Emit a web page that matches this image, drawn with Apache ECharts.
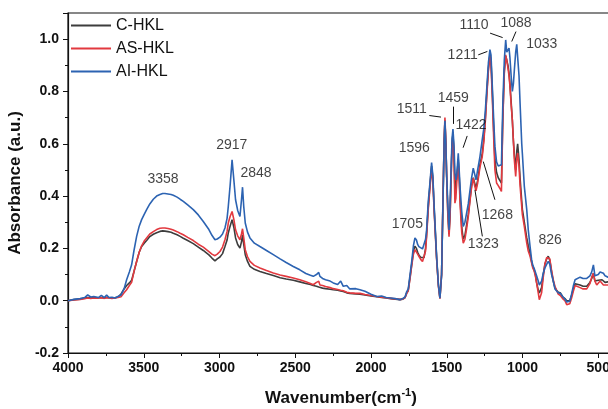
<!DOCTYPE html>
<html>
<head>
<meta charset="utf-8">
<script src="https://cdn.jsdelivr.net/npm/echarts@6/dist/echarts.min.js"></script>
<style>
html,body{margin:0;padding:0;background:#fff;}
#chart{width:608px;height:409px;}
</style>
</head>
<body>
<div id="chart"></div>
<script>
// ---- data (wavenumber in cm-1, absorbance in a.u.) ----
const wavenumbers = [
  4000,3960,3920,3890,3870,3850,3830,3800,3780,3760,3745,3730,3710,3690,3670,
  3650,3630,3613,3595,3580,3565,3547,3530,3514,3497,3481,3460,3437,3415,3393,3375,3360,3340,3320,3305,3280,3260,3239,3210,3173,3140,3107,3070,3050,3030,
  3015,2997,2980,2964,2950,2942,2930,2917,2905,2894,2880,2865,2855,2848,2840,2830,2815,2799,
  2770,2733,2690,2645,2600,2560,2513,2470,2430,2400,2381,2360,2345,2337,2320,2300,2270,2249,2220,2200,2183,2160,2140,2100,2073,2040,2000,1962,1930,1900,1870,1840,1809,1790,
  1775,1764,1754,1740,1731,1720,1710,1700,1692,1684,1672,1660,1650,1640,1633,1622,1611,1600,1592,1583,1567,1555,1545,1534,1525,1517,1512,1506,1501,
  1493,1485,1478,1472,1465,1459,1452,1446,1440,1434,1424,1418,1411,1401,1391,1380,1369,1358,1347,1336,1325,1316,1307,1296,1281,1266,1255,1245,1235,1225,1215,
  1208,1200,1190,1182,1171,1160,1150,1139,1130,1120,1111,1104,1096,1089,1083,1075,1067,1060,1054,1045,1038,1032,1023,1016,1005,1001,
  988,972,962,950,940,932,924,915,907,896,889,884,874,863,852,840,830,820,808,797,786,775,764,750,735,720,708,
  698,688,676,665,653,640,620,600,576,555,543,532,522,510,500,488,475,466,455,445,436,420,400
];
const cHKL = [
  0.000,0.004,0.006,0.010,0.012,0.010,0.012,0.011,0.012,0.010,0.013,0.011,0.010,0.011,0.014,
  0.025,0.045,0.058,0.068,0.078,0.110,0.150,0.185,0.207,0.220,0.230,0.245,0.254,0.260,0.265,0.267,0.266,0.264,0.262,0.258,0.252,0.246,0.239,0.230,0.218,0.205,0.192,0.175,0.163,0.152,
  0.160,0.167,0.180,0.207,0.232,0.259,0.285,0.310,0.280,0.240,0.215,0.201,0.225,0.252,0.215,0.176,0.150,0.131,
  0.120,0.112,0.104,0.096,0.088,0.083,0.078,0.072,0.066,0.062,0.058,0.055,0.052,0.050,0.048,0.046,0.044,0.042,0.040,0.037,0.035,0.030,0.028,0.026,0.025,0.022,0.018,0.015,0.012,0.010,0.008,0.006,0.004,0.006,
  0.012,0.030,0.040,0.100,0.140,0.190,0.208,0.200,0.185,0.175,0.165,0.158,0.165,0.200,0.255,0.360,0.440,0.515,0.470,0.350,0.165,0.060,0.010,0.100,0.380,0.610,0.690,0.600,0.480,
  0.340,0.255,0.330,0.460,0.600,0.640,0.560,0.420,0.420,0.470,0.540,0.480,0.380,0.280,0.235,0.250,0.290,0.330,0.385,0.440,0.470,0.450,0.430,0.460,0.520,0.560,0.620,0.700,0.800,0.890,0.940,
  0.920,0.810,0.650,0.540,0.490,0.470,0.460,0.450,0.700,0.880,0.935,0.920,0.900,0.870,0.830,0.760,0.690,0.610,0.560,0.500,0.570,0.600,0.540,0.470,0.380,0.350,
  0.300,0.240,0.210,0.180,0.150,0.130,0.120,0.100,0.070,0.040,0.030,0.035,0.050,0.100,0.140,0.160,0.170,0.155,0.110,0.075,0.050,0.040,0.032,0.030,0.015,0.008,0.000,
  -0.005,0.000,0.020,0.045,0.065,0.068,0.060,0.055,0.055,0.070,0.085,0.105,0.075,0.070,0.078,0.085,0.080,0.075,0.070,0.075,0.072,0.070,0.070
];
const asHKL = [
  0.000,0.003,0.005,0.008,0.010,0.009,0.010,0.010,0.011,0.009,0.011,0.010,0.009,0.010,0.012,
  0.015,0.030,0.042,0.058,0.070,0.110,0.150,0.185,0.210,0.228,0.240,0.255,0.264,0.272,0.277,0.278,0.278,0.276,0.273,0.270,0.264,0.258,0.252,0.242,0.230,0.216,0.205,0.188,0.178,0.172,
  0.178,0.188,0.205,0.233,0.265,0.297,0.322,0.341,0.310,0.271,0.248,0.233,0.255,0.275,0.240,0.195,0.168,0.150,
  0.135,0.125,0.115,0.106,0.098,0.093,0.087,0.080,0.072,0.066,0.061,0.070,0.074,0.060,0.058,0.054,0.050,0.046,0.043,0.040,0.038,0.032,0.030,0.028,0.028,0.024,0.020,0.016,0.013,0.011,0.009,0.007,0.005,0.006,
  0.012,0.028,0.038,0.095,0.135,0.178,0.195,0.190,0.178,0.170,0.158,0.150,0.155,0.190,0.245,0.350,0.430,0.505,0.460,0.340,0.160,0.055,0.008,0.100,0.390,0.620,0.700,0.610,0.490,
  0.330,0.245,0.320,0.450,0.590,0.635,0.540,0.373,0.390,0.450,0.530,0.460,0.360,0.260,0.220,0.235,0.275,0.320,0.380,0.435,0.469,0.440,0.420,0.450,0.510,0.550,0.610,0.690,0.790,0.880,0.935,
  0.900,0.790,0.620,0.500,0.450,0.440,0.430,0.418,0.690,0.870,0.940,0.920,0.890,0.860,0.820,0.750,0.690,0.610,0.540,0.475,0.540,0.564,0.513,0.440,0.360,0.330,
  0.284,0.220,0.190,0.170,0.145,0.125,0.115,0.095,0.068,0.030,0.004,0.010,0.030,0.090,0.140,0.165,0.172,0.160,0.115,0.080,0.055,0.040,0.025,0.020,0.008,0.000,-0.015,
  -0.018,-0.012,0.010,0.035,0.058,0.062,0.050,0.045,0.045,0.065,0.090,0.105,0.075,0.060,0.065,0.075,0.068,0.060,0.055,0.060,0.062,0.060,0.060
];
const aiHKL = [
  0.000,0.005,0.008,0.012,0.022,0.014,0.016,0.012,0.020,0.012,0.022,0.012,0.013,0.010,0.016,
  0.022,0.045,0.080,0.110,0.137,0.190,0.246,0.285,0.310,0.330,0.348,0.370,0.388,0.400,0.406,0.410,0.410,0.408,0.406,0.403,0.396,0.388,0.380,0.366,0.348,0.328,0.303,0.272,0.250,0.233,
  0.236,0.243,0.255,0.278,0.315,0.360,0.440,0.539,0.460,0.386,0.345,0.322,0.385,0.434,0.360,0.297,0.262,0.240,
  0.220,0.207,0.192,0.176,0.160,0.146,0.131,0.118,0.104,0.097,0.093,0.100,0.108,0.093,0.085,0.080,0.075,0.068,0.062,0.075,0.055,0.058,0.045,0.046,0.042,0.036,0.025,0.016,0.018,0.012,0.010,0.008,0.004,0.008,
  0.015,0.035,0.045,0.110,0.150,0.210,0.240,0.232,0.215,0.207,0.200,0.198,0.205,0.235,0.270,0.380,0.450,0.528,0.480,0.360,0.170,0.060,0.010,0.100,0.370,0.610,0.688,0.600,0.488,
  0.370,0.270,0.370,0.490,0.620,0.656,0.590,0.490,0.462,0.480,0.564,0.500,0.424,0.340,0.284,0.300,0.335,0.370,0.420,0.470,0.507,0.485,0.462,0.500,0.550,0.615,0.660,0.730,0.820,0.910,0.960,
  0.940,0.830,0.690,0.590,0.530,0.515,0.512,0.520,0.750,0.920,0.997,0.950,0.955,0.966,0.930,0.860,0.800,0.830,0.880,0.950,0.980,0.987,0.860,0.755,0.600,0.564,
  0.437,0.348,0.271,0.207,0.157,0.135,0.125,0.120,0.095,0.075,0.060,0.058,0.075,0.105,0.125,0.140,0.150,0.140,0.100,0.075,0.045,0.042,0.030,0.028,0.016,0.006,-0.005,
  -0.009,-0.002,0.025,0.055,0.080,0.082,0.090,0.085,0.085,0.095,0.110,0.137,0.095,0.088,0.100,0.110,0.112,0.105,0.095,0.090,0.090,0.088,0.088
];
const seriesNames = ['C-HKL', 'AS-HKL', 'AI-HKL'];
const xTicks = { min: 0, max: 4000, step: 500 };
const yTicks = { min: -0.2, max: 1.1, step: 0.2 };

// peak annotations (text and anchor in data units)
const peakLabels   = ['3358','2917','2848','1705','1596','1511','1459','1422','1323','1268','1211','1110','1088','1033','826'];
const peakLabelWn  = [3373, 2919, 2759, 1760, 1714, 1731, 1457, 1340, 1259, 1166, 1395, 1320, 1043, 873, 818];
const peakLabelAbs = [0.466, 0.596, 0.488, 0.294, 0.583, 0.734, 0.775, 0.673, 0.218, 0.329, 0.937, 1.052, 1.063, 0.981, 0.233];
const leaderFrom = [[1615,0.708],[1457,0.742],[1365,0.630],[1314,0.424],[1259,0.532],[1292,0.940],[1214,1.023],[1043,1.029]];
const leaderTo   = [[1538,0.702],[1457,0.676],[1392,0.585],[1265,0.246],[1182,0.386],[1232,0.953],[1131,1.006],[1071,0.991]];

[cHKL, asHKL, aiHKL].forEach(function (a, i) {
  if (a.length !== wavenumbers.length) throw new Error('length mismatch in ' + seriesNames[i] + ': ' + a.length + ' vs ' + wavenumbers.length);
});

const colors = ['#3d3d3d', '#e2393f', '#2c63b2'];
const FONT = 'Liberation Sans, Arial, sans-serif';

function pairs(vals) { return wavenumbers.map(function (w, i) { return [w, vals[i]]; }); }

const chart = echarts.init(document.getElementById('chart'), null, { renderer: 'canvas' });
const lineSeries = [cHKL, asHKL, aiHKL].map(function (vals, i) {
  return {
    name: seriesNames[i], type: 'line', data: pairs(vals), showSymbol: false, symbol: 'none',
    lineStyle: { color: colors[i], width: 1.6 }, itemStyle: { color: colors[i] },
    z: 2 + i, silent: true
  };
});
lineSeries.push({
  name: 'labels', type: 'scatter', silent: true, z: 10,
  symbol: 'circle', symbolSize: 1, itemStyle: { color: 'rgba(0,0,0,0)' },
  data: peakLabels.map(function (t, i) { return { value: [peakLabelWn[i], peakLabelAbs[i]], name: t }; }),
  label: {
    show: true, position: 'inside', formatter: '{b}', color: '#111',
    fontFamily: FONT, fontSize: 14, align: 'center', verticalAlign: 'middle'
  },
  labelLayout: { hideOverlap: false },
  markLine: {
    silent: true, symbol: ['none', 'none'], animation: false,
    label: { show: false },
    lineStyle: { color: '#111', width: 1, type: 'solid' },
    data: leaderFrom.map(function (p, i) { return [{ coord: p }, { coord: leaderTo[i] }]; })
  }
});

chart.setOption({
  animation: false,
  backgroundColor: '#fff',
  grid: { left: 68, top: 13, width: 606, height: 340, show: true, borderColor: '#111', borderWidth: 1.2, containLabel: false, outerBoundsMode: 'none' },
  legend: {
    data: seriesNames, orient: 'vertical', left: 71, top: 16, padding: 0,
    icon: 'rect', itemWidth: 40, itemHeight: 2, itemGap: 4,
    textStyle: { fontFamily: FONT, fontSize: 16, color: '#111', lineHeight: 19 }
  },
  xAxis: {
    type: 'value', inverse: true, min: xTicks.min, max: xTicks.max, interval: xTicks.step,
    splitLine: { show: false },
    axisLine: { onZero: false, lineStyle: { color: '#111', width: 1.2 } },
    axisTick: { show: true, length: 5, lineStyle: { color: '#111' } },
    minorTick: { show: true, splitNumber: 2, length: 3, lineStyle: { color: '#111' } },
    axisLabel: { color: '#111', fontFamily: FONT, fontWeight: 'bold', fontSize: 14, margin: 8,
      formatter: function (v) { return String(v); } },
    name: '{b|Wavenumber(cm}{sup|-1}{b|)}', nameLocation: 'middle', nameGap: 34,
    nameTextStyle: {
      padding: [0, 60, 0, 0],
      rich: {
        b: { fontFamily: FONT, fontWeight: 'bold', fontSize: 17, color: '#111', lineHeight: 20, verticalAlign: 'bottom' },
        sup: { fontFamily: FONT, fontWeight: 'bold', fontSize: 11, color: '#111', lineHeight: 20, verticalAlign: 'top' }
      }
    }
  },
  yAxis: {
    type: 'value', min: yTicks.min, max: yTicks.max, interval: yTicks.step,
    splitLine: { show: false },
    axisLine: { show: true, onZero: false, lineStyle: { color: '#111', width: 1.2 } },
    axisTick: { show: true, length: 5, lineStyle: { color: '#111' } },
    minorTick: { show: true, splitNumber: 2, length: 3, lineStyle: { color: '#111' } },
    axisLabel: {
      color: '#111', fontFamily: FONT, fontWeight: 'bold', fontSize: 14, margin: 9, showMaxLabel: false,
      formatter: function (v) { return v > 1.05 ? '' : v.toFixed(1); }
    },
    name: 'Absorbance (a.u.)', nameLocation: 'middle', nameGap: 34,
    nameTextStyle: { fontFamily: FONT, fontWeight: 'bold', fontSize: 17, color: '#111' }
  },
  series: lineSeries
});
</script>
</body>
</html>
